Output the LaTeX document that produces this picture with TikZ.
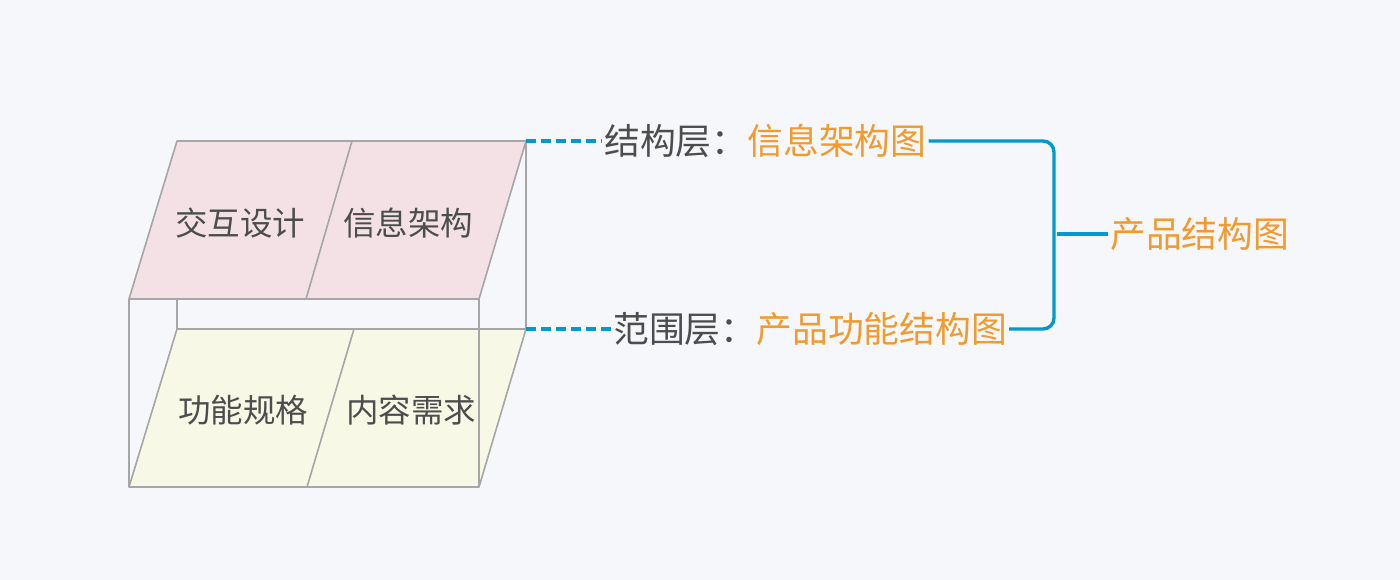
\documentclass[tikz,border=0pt]{standalone}
\usepackage{fontspec}
\newfontfamily\cjk{Noto Sans CJK SC}
\definecolor{bg}{HTML}{F5F7FA}
\definecolor{pinkf}{HTML}{F4E1E6}
\definecolor{yelf}{HTML}{F7F8E6}
\definecolor{edge}{HTML}{A6A6A6}
\definecolor{txt}{HTML}{4D4D4D}
\definecolor{orng}{HTML}{F29A2E}
\definecolor{blu}{HTML}{0399CC}
\tikzset{
  face/.style={draw=edge, line width=1.6pt, line join=round},
  gline/.style={draw=edge, line width=1.6pt},
  facelabel/.style={font=\cjk\fontsize{32.5}{33}\selectfont, text=txt, inner sep=0pt},
  layerlabel/.style={font=\cjk\fontsize{35.8}{36}\selectfont, text=txt, inner sep=2pt, text height=31.5pt, text depth=4.5pt},
  dashlink/.style={draw=blu, line width=3.4pt, dash pattern=on 10pt off 5pt},
  solidlink/.style={draw=blu, line width=3.4pt, rounded corners=11pt},
}
\begin{document}
\begin{tikzpicture}[x=1pt,y=-1pt]
\useasboundingbox[fill=bg] (0,0) rectangle (1400,580);
% corners
\coordinate (tTL) at (177,141);
\coordinate (tTR) at (526,141);
\coordinate (tBR) at (479,299);
\coordinate (tBL) at (129,299);
\coordinate (tDT) at (352,141);
\coordinate (tDB) at (306,299);
\coordinate (bTL) at (177,329);
\coordinate (bTR) at (526,329);
\coordinate (bBR) at (479,487);
\coordinate (bBL) at (129,487);
\coordinate (bDT) at (354,329);
\coordinate (bDB) at (307,487);
% fills
\fill[pinkf] (tTL) -- (tTR) -- (tBR) -- (tBL) -- cycle;
\fill[yelf] (bTL) -- (bTR) -- (bBR) -- (bBL) -- cycle;
% edges
\path[face] (tTL) -- (tTR) -- (tBR) -- (tBL) -- cycle;
\path[gline] (tDT) -- (tDB);
\path[face] (bTL) -- (bTR) -- (bBR) -- (bBL) -- cycle;
\path[gline] (bDT) -- (bDB);
\path[gline] (tBL) -- (bBL);
\path[gline] (177,299) -- (bTL);
\path[gline] (tBR) -- (bBR);
\path[gline] (tTR) -- (bTR);
% face labels
\node[facelabel] (f1) at (240,223) {交互设计};
\node[facelabel] (f2) at (408,223) {信息架构};
\node[facelabel] (f3) at (243,410) {功能规格};
\node[facelabel] (f4) at (411,410) {内容需求};
% layer labels
\node[layerlabel, anchor=west] (l1) at (602,141) {结构层：\textcolor{orng}{信息架构图}};
\node[layerlabel, anchor=west] (l2) at (611,329) {范围层：\textcolor{orng}{产品功能结构图}};
\node[layerlabel, anchor=west, text=orng] (l3) at (1108,234) {产品结构图};
% connectors
\path[dashlink] (tTR) -- (l1.west);
\path[dashlink] (bTR) -- (l2.west);
\path[solidlink] (l1.east) -- (1054,141) -- (1054,329) -- (l2.east);
\path[draw=blu, line width=3.4pt] (1057,234) -- (l3.west);
\end{tikzpicture}
\end{document}
